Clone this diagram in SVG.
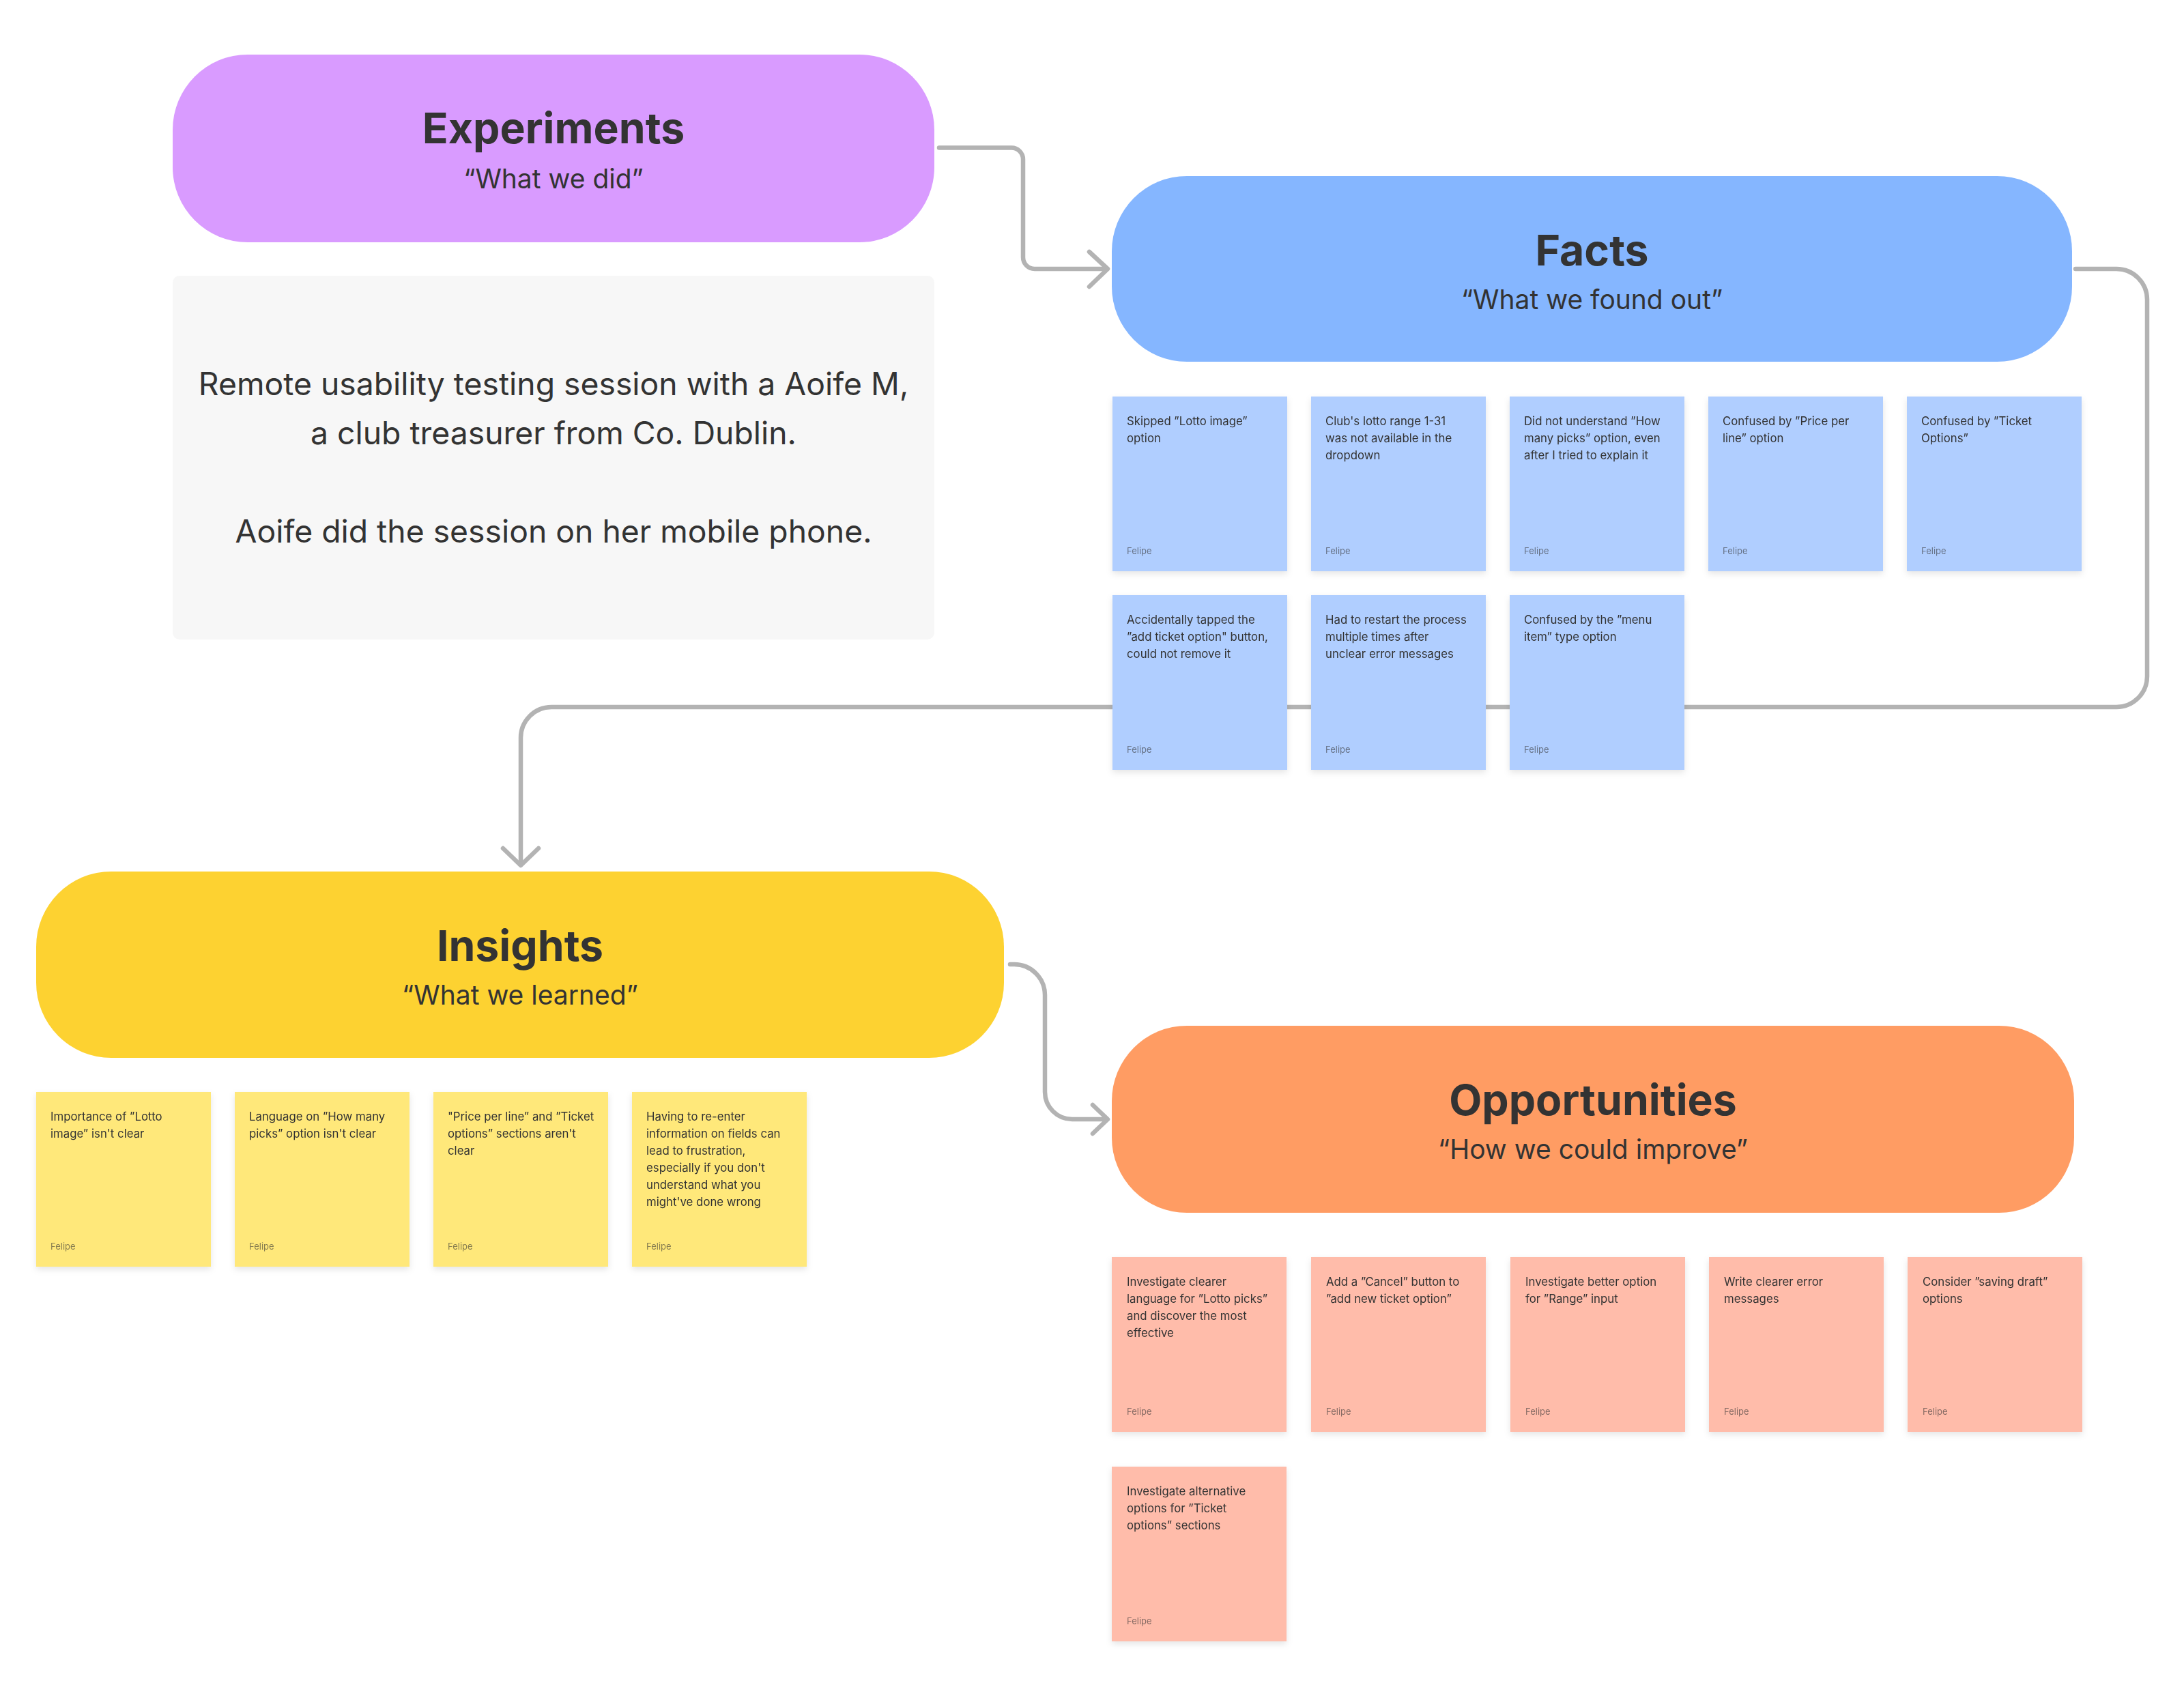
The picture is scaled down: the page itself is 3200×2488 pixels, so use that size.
<svg xmlns="http://www.w3.org/2000/svg" width="3200" height="2488" viewBox="0 0 3200 2488">
  <style>
    text { font-family: Inter, "Liberation Sans", sans-serif; fill: #333333; }
    .title { font-size: 62.5px; font-weight: 700; text-anchor: middle; }
    .sub { font-size: 39px; font-weight: 400; text-anchor: middle; }
    .body { font-size: 46.3px; font-weight: 400; text-anchor: middle; }
    .note { font-size: 16.8px; font-weight: 400; }
    .author { font-size: 13px; fill: #333333; fill-opacity: 0.6; }
    .conn { fill: none; stroke: #B3B3B3; stroke-width: 6.5; stroke-linecap: round; stroke-linejoin: round; }
    .blue { fill: #B0CEFF; }
    .yellow { fill: #FFE87A; }
    .pink { fill: #FFBCAA; }
  </style>
  <defs>
    <filter id="shadow" x="-10%" y="-10%" width="120%" height="125%">
      <feDropShadow dx="0" dy="4" stdDeviation="5" flood-color="#000000" flood-opacity="0.10"/>
    </filter>
  </defs>
  <rect width="3200" height="2488" fill="#FFFFFF"/>

  <g id="connectors">
    <path class="conn" d="M1376,216.5 H1482 A17,17 0 0 1 1499,233.5 V377 A17,17 0 0 0 1516,394 H1622"/>
    <path class="conn" d="M1596,369 L1623,394 L1596,420"/>
    <path class="conn" d="M3041,394 H3101 A45,45 0 0 1 3146,439 V991 A45,45 0 0 1 3101,1036 H808 A45,45 0 0 0 763,1081 V1266"/>
    <path class="conn" d="M737,1243 L763,1268 L789,1243"/>
    <path class="conn" d="M1480,1413 H1486 A45,45 0 0 1 1531,1458 V1600 A40,40 0 0 0 1571,1640 H1621"/>
    <path class="conn" d="M1601,1619 L1623,1640 L1601,1661"/>
  </g>

  <g id="experiments">
    <rect x="253" y="80" width="1116" height="275" rx="110" ry="110" fill="#D99BFF"/>
    <text class="title" x="811" y="210">Experiments</text>
    <text class="sub" x="811" y="276">“What we did”</text>
  </g>

  <g id="experiment-description">
    <rect x="253" y="404" width="1116" height="533" rx="10" ry="10" fill="#F7F7F7"/>
    <text class="body" x="811" y="579">Remote usability testing session with a Aoife M,</text>
    <text class="body" x="811" y="651">a club treasurer from Co. Dublin.</text>
    <text class="body" x="811" y="795">Aoife did the session on her mobile phone.</text>
  </g>

  <g id="facts">
    <rect x="1629" y="258" width="1407" height="272" rx="110" ry="110" fill="#85B6FF"/>
    <text class="title" x="2332.5" y="389">Facts</text>
    <text class="sub" x="2332.5" y="453">“What we found out”</text>
  </g>

  <g id="fact-1" filter="url(#shadow)">
    <rect class="blue" x="1630" y="581" width="256" height="256"/>
    <text class="note" x="1651" y="623"><tspan x="1651">Skipped ”Lotto image”</tspan><tspan x="1651" dy="25">option</tspan></text>
    <text class="author" x="1651" y="812">Felipe</text>
  </g>
  <g id="fact-2" filter="url(#shadow)">
    <rect class="blue" x="1921" y="581" width="256" height="256"/>
    <text class="note" x="1942" y="623"><tspan x="1942">Club's lotto range 1-31</tspan><tspan x="1942" dy="25">was not available in the</tspan><tspan x="1942" dy="25">dropdown</tspan></text>
    <text class="author" x="1942" y="812">Felipe</text>
  </g>
  <g id="fact-3" filter="url(#shadow)">
    <rect class="blue" x="2212" y="581" width="256" height="256"/>
    <text class="note" x="2233" y="623"><tspan x="2233">Did not understand ”How</tspan><tspan x="2233" dy="25">many picks” option, even</tspan><tspan x="2233" dy="25">after I tried to explain it</tspan></text>
    <text class="author" x="2233" y="812">Felipe</text>
  </g>
  <g id="fact-4" filter="url(#shadow)">
    <rect class="blue" x="2503" y="581" width="256" height="256"/>
    <text class="note" x="2524" y="623"><tspan x="2524">Confused by ”Price per</tspan><tspan x="2524" dy="25">line” option</tspan></text>
    <text class="author" x="2524" y="812">Felipe</text>
  </g>
  <g id="fact-5" filter="url(#shadow)">
    <rect class="blue" x="2794" y="581" width="256" height="256"/>
    <text class="note" x="2815" y="623"><tspan x="2815">Confused by ”Ticket</tspan><tspan x="2815" dy="25">Options”</tspan></text>
    <text class="author" x="2815" y="812">Felipe</text>
  </g>
  <g id="fact-6" filter="url(#shadow)">
    <rect class="blue" x="1630" y="872" width="256" height="256"/>
    <text class="note" x="1651" y="914"><tspan x="1651">Accidentally tapped the</tspan><tspan x="1651" dy="25">”add ticket option" button,</tspan><tspan x="1651" dy="25">could not remove it</tspan></text>
    <text class="author" x="1651" y="1103">Felipe</text>
  </g>
  <g id="fact-7" filter="url(#shadow)">
    <rect class="blue" x="1921" y="872" width="256" height="256"/>
    <text class="note" x="1942" y="914"><tspan x="1942">Had to restart the process</tspan><tspan x="1942" dy="25">multiple times after</tspan><tspan x="1942" dy="25">unclear error messages</tspan></text>
    <text class="author" x="1942" y="1103">Felipe</text>
  </g>
  <g id="fact-8" filter="url(#shadow)">
    <rect class="blue" x="2212" y="872" width="256" height="256"/>
    <text class="note" x="2233" y="914"><tspan x="2233">Confused by the ”menu</tspan><tspan x="2233" dy="25">item” type option</tspan></text>
    <text class="author" x="2233" y="1103">Felipe</text>
  </g>

  <g id="insights">
    <rect x="53" y="1277" width="1418" height="273" rx="110" ry="110" fill="#FDD231"/>
    <text class="title" x="762" y="1408">Insights</text>
    <text class="sub" x="762" y="1472">“What we learned”</text>
  </g>

  <g id="insight-1" filter="url(#shadow)">
    <rect class="yellow" x="53" y="1600" width="256" height="256"/>
    <text class="note" x="74" y="1642"><tspan x="74">Importance of ”Lotto</tspan><tspan x="74" dy="25">image” isn't clear</tspan></text>
    <text class="author" x="74" y="1831">Felipe</text>
  </g>
  <g id="insight-2" filter="url(#shadow)">
    <rect class="yellow" x="344" y="1600" width="256" height="256"/>
    <text class="note" x="365" y="1642"><tspan x="365">Language on ”How many</tspan><tspan x="365" dy="25">picks” option isn't clear</tspan></text>
    <text class="author" x="365" y="1831">Felipe</text>
  </g>
  <g id="insight-3" filter="url(#shadow)">
    <rect class="yellow" x="635" y="1600" width="256" height="256"/>
    <text class="note" x="656" y="1642"><tspan x="656">"Price per line” and ”Ticket</tspan><tspan x="656" dy="25">options” sections aren't</tspan><tspan x="656" dy="25">clear</tspan></text>
    <text class="author" x="656" y="1831">Felipe</text>
  </g>
  <g id="insight-4" filter="url(#shadow)">
    <rect class="yellow" x="926" y="1600" width="256" height="256"/>
    <text class="note" x="947" y="1642"><tspan x="947">Having to re-enter</tspan><tspan x="947" dy="25">information on fields can</tspan><tspan x="947" dy="25">lead to frustration,</tspan><tspan x="947" dy="25">especially if you don't</tspan><tspan x="947" dy="25">understand what you</tspan><tspan x="947" dy="25">might've done wrong</tspan></text>
    <text class="author" x="947" y="1831">Felipe</text>
  </g>

  <g id="opportunities">
    <rect x="1629" y="1503" width="1410" height="274" rx="110" ry="110" fill="#FF9C63"/>
    <text class="title" x="2334" y="1634">Opportunities</text>
    <text class="sub" x="2334" y="1698">“How we could improve”</text>
  </g>

  <g id="opportunity-1" filter="url(#shadow)">
    <rect class="pink" x="1629" y="1842" width="256" height="256"/>
    <text class="note" x="1651" y="1884"><tspan x="1651">Investigate clearer</tspan><tspan x="1651" dy="25">language for ”Lotto picks”</tspan><tspan x="1651" dy="25">and discover the most</tspan><tspan x="1651" dy="25">effective</tspan></text>
    <text class="author" x="1651" y="2073">Felipe</text>
  </g>
  <g id="opportunity-2" filter="url(#shadow)">
    <rect class="pink" x="1921" y="1842" width="256" height="256"/>
    <text class="note" x="1943" y="1884"><tspan x="1943">Add a ”Cancel” button to</tspan><tspan x="1943" dy="25">”add new ticket option”</tspan></text>
    <text class="author" x="1943" y="2073">Felipe</text>
  </g>
  <g id="opportunity-3" filter="url(#shadow)">
    <rect class="pink" x="2213" y="1842" width="256" height="256"/>
    <text class="note" x="2235" y="1884"><tspan x="2235">Investigate better option</tspan><tspan x="2235" dy="25">for ”Range” input</tspan></text>
    <text class="author" x="2235" y="2073">Felipe</text>
  </g>
  <g id="opportunity-4" filter="url(#shadow)">
    <rect class="pink" x="2504" y="1842" width="256" height="256"/>
    <text class="note" x="2526" y="1884"><tspan x="2526">Write clearer error</tspan><tspan x="2526" dy="25">messages</tspan></text>
    <text class="author" x="2526" y="2073">Felipe</text>
  </g>
  <g id="opportunity-5" filter="url(#shadow)">
    <rect class="pink" x="2795" y="1842" width="256" height="256"/>
    <text class="note" x="2817" y="1884"><tspan x="2817">Consider ”saving draft”</tspan><tspan x="2817" dy="25">options</tspan></text>
    <text class="author" x="2817" y="2073">Felipe</text>
  </g>
  <g id="opportunity-6" filter="url(#shadow)">
    <rect class="pink" x="1629" y="2149" width="256" height="256"/>
    <text class="note" x="1651" y="2191"><tspan x="1651">Investigate alternative</tspan><tspan x="1651" dy="25">options for ”Ticket</tspan><tspan x="1651" dy="25">options” sections</tspan></text>
    <text class="author" x="1651" y="2380">Felipe</text>
  </g>
</svg>
